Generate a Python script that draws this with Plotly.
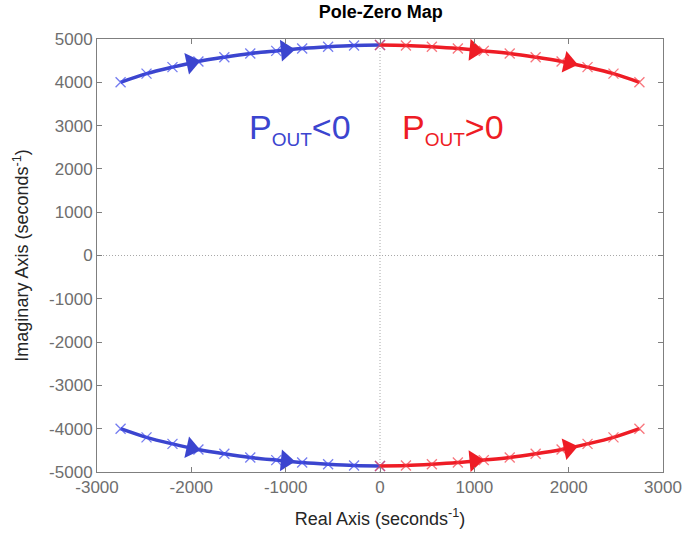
import numpy as np
import plotly.graph_objects as go

# Closed-loop pole locations (upper half-plane), read along the root locus
neg_real = [-2750, -2475, -2200, -1925, -1650, -1375, -1100, -825, -550, -275, 0]
neg_imag = [4000, 4200, 4350, 4480, 4580, 4665, 4725, 4780, 4820, 4850, 4860]
pos_real = [0, 275, 550, 825, 1100, 1375, 1650, 1925, 2200, 2475, 2750]
pos_imag = [4860, 4850, 4820, 4780, 4725, 4665, 4580, 4480, 4350, 4200, 4000]

# Direction arrows drawn on each branch
neg_arrow_real = [-2000, -1000]
neg_arrow_imag = [4450, 4740]
pos_arrow_real = [1000, 2000]
pos_arrow_imag = [4740, 4450]

x_ticks = [-3000, -2000, -1000, 0, 1000, 2000, 3000]
x_labels = ["-3000", "-2000", "-1000", "0", "1000", "2000", "3000"]
y_ticks = [-5000, -4000, -3000, -2000, -1000, 0, 1000, 2000, 3000, 4000, 5000]
y_labels = ["-5000", "-4000", "-3000", "-2000", "-1000", "0",
            "1000", "2000", "3000", "4000", "5000"]

BLUE = "#3b45cf"
BLUE_X = "rgba(70,80,235,0.75)"
RED = "#ee1c25"
RED_X = "rgba(245,60,70,0.7)"

W, H = 685, 536
M = dict(l=97, r=22, t=39, b=64)
XR = [-3000, 3000]
YR = [-5000, 5000]
px_per_x = (W - M["l"] - M["r"]) / (XR[1] - XR[0])
px_per_y = (H - M["t"] - M["b"]) / (YR[1] - YR[0])


def arrow_angles(ax, ay, cx, cy):
    """Clockwise rotation for a right-pointing triangle following the branch."""
    cx = np.asarray(cx, float)
    cy = np.asarray(cy, float)
    order = np.argsort(cx)
    cx, cy = cx[order], cy[order]
    out = []
    for x in ax:
        i = int(np.clip(np.searchsorted(cx, x), 1, len(cx) - 1))
        dx = (cx[i] - cx[i - 1]) * px_per_x
        dy = (cy[i] - cy[i - 1]) * px_per_y
        out.append(-np.degrees(np.arctan2(dy, dx)))
    return out


fig = go.Figure()

branches = [
    (neg_real, neg_imag, neg_arrow_real, neg_arrow_imag, BLUE, BLUE_X),
    (pos_real, pos_imag, pos_arrow_real, pos_arrow_imag, RED, RED_X),
]

for sign in (1, -1):
    for rx, iy, arx, ary, col, xcol in branches:
        yy = [sign * v for v in iy]
        ay = [sign * v for v in ary]
        fig.add_trace(go.Scatter(
            x=rx, y=yy, mode="lines",
            line=dict(color=col, width=3.5, shape="spline"),
            hoverinfo="skip", showlegend=False))
        fig.add_trace(go.Scatter(
            x=rx, y=yy, mode="markers",
            marker=dict(symbol="x-thin-open", size=10, color=xcol,
                        line=dict(color=xcol, width=1.3)),
            showlegend=False))
        fig.add_trace(go.Scatter(
            x=arx, y=ay, mode="markers",
            marker=dict(symbol="triangle-right", size=19, color=col,
                        angle=arrow_angles(arx, ay, rx, yy),
                        line=dict(width=0)),
            hoverinfo="skip", showlegend=False))

# Dotted real and imaginary axes
fig.add_shape(type="line", xref="x", yref="y", x0=0, x1=0, y0=YR[0], y1=YR[1],
              line=dict(color="#a8a8a8", width=1, dash="1px,2px"), layer="below")
fig.add_shape(type="line", xref="x", yref="y", x0=XR[0], x1=XR[1], y0=0, y1=0,
              line=dict(color="#a8a8a8", width=1, dash="1px,2px"), layer="below")

sub = "<sub><span style='font-size:19px'>OUT</span></sub>"
fig.add_annotation(x=-850, y=2930, xref="x", yref="y",
                   text="P" + sub + "&lt;0", showarrow=False,
                   font=dict(size=34, color=BLUE, family="Liberation Sans"))
fig.add_annotation(x=770, y=2930, xref="x", yref="y",
                   text="P" + sub + "&gt;0", showarrow=False,
                   font=dict(size=34, color=RED, family="Liberation Sans"))

axis_common = dict(
    showgrid=False, zeroline=False, showline=True, mirror="ticks",
    linecolor="#7f7f7f", linewidth=1, ticks="inside", ticklen=5,
    tickcolor="#7f7f7f", tickfont=dict(size=17, color="#6e6e6e"),
    automargin=False,
)

fig.update_layout(
    width=W, height=H, margin=M,
    paper_bgcolor="white", plot_bgcolor="white",
    font=dict(family="Liberation Sans"),
    title=dict(text="<b>Pole-Zero Map</b>", x=0.556, xanchor="center",
               y=0.978, yanchor="middle", font=dict(size=18, color="black")),
    xaxis=dict(range=XR, tickvals=x_ticks, ticktext=x_labels, **axis_common,
               title=dict(text="Real Axis (seconds<sup>-1</sup>)",
                          font=dict(size=18, color="#262626"))),
    yaxis=dict(range=YR, tickvals=y_ticks, ticktext=y_labels, **axis_common,
               title=dict(text="Imaginary Axis (seconds<sup>-1</sup>)",
                          font=dict(size=18, color="#262626"))),
)

fig.write_html("out.html")
